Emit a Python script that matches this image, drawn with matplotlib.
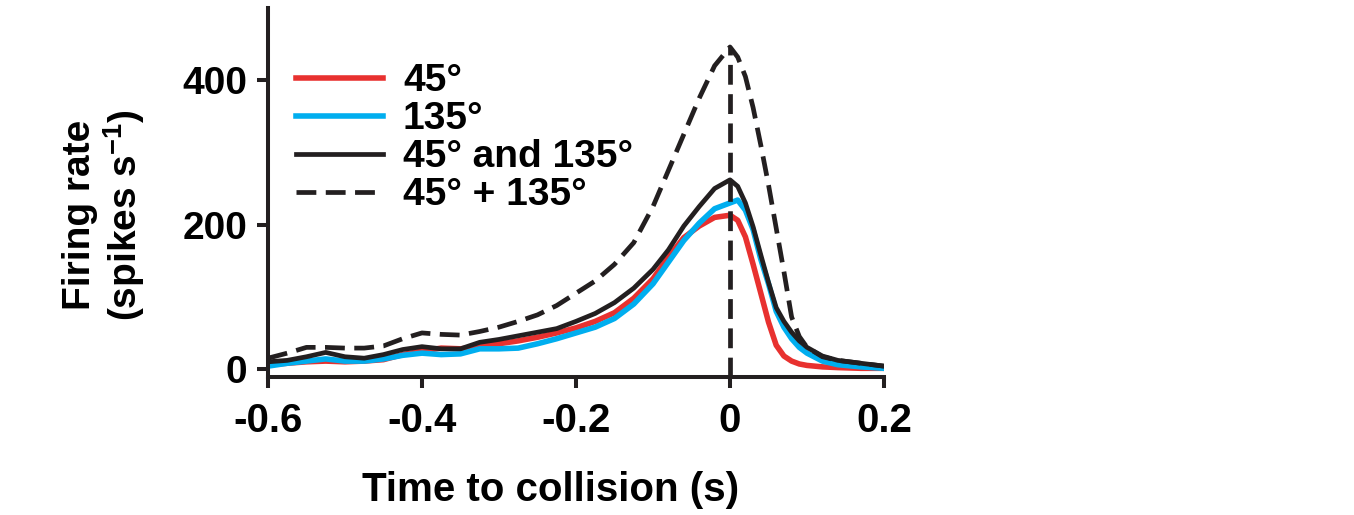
import matplotlib.pyplot as plt

plt.rcParams["font.family"] = ["Liberation Sans", "DejaVu Sans"]
plt.rcParams["font.weight"] = "bold"
plt.rcParams["mathtext.fontset"] = "custom"
plt.rcParams["mathtext.bf"] = "Liberation Sans:bold"
plt.rcParams["mathtext.rm"] = "Liberation Sans:bold"

# time to collision (s)
t = [-0.600, -0.575, -0.550, -0.525, -0.500, -0.475, -0.450, -0.425, -0.400, -0.375,
     -0.350, -0.325, -0.300, -0.275, -0.250, -0.225, -0.200, -0.175, -0.150, -0.125,
     -0.100, -0.080, -0.060, -0.040, -0.020, 0.000, 0.010, 0.020, 0.030, 0.040,
     0.050, 0.060, 0.070, 0.080, 0.090, 0.100, 0.120, 0.140, 0.170, 0.200]

# firing rate (spikes/s)
rate_45 = [6, 8, 10, 11, 10, 11, 13, 20, 25, 29,
           28, 31, 35, 39, 44, 50, 57, 66, 78, 98,
           125, 155, 182, 198, 210, 213, 206, 183, 145, 105,
           65, 33, 18, 11, 7, 5, 3, 2, 1, 1]
rate_135 = [4, 8, 11, 14, 11, 11, 14, 19, 22, 20,
            21, 28, 28, 29, 35, 42, 50, 58, 70, 90,
            118, 148, 178, 202, 222, 230, 234, 220, 193, 152,
            118, 80, 58, 42, 30, 22, 11, 6, 3, 1]
rate_both = [10, 12, 17, 23, 17, 15, 20, 27, 31, 28,
             28, 37, 41, 46, 51, 56, 66, 77, 92, 112,
             138, 165, 198, 225, 250, 262, 253, 230, 197, 158,
             120, 85, 66, 51, 39, 30, 18, 12, 8, 4]
rate_sum = [15, 22, 30, 30, 29, 29, 32, 42, 50, 48,
            47, 52, 58, 66, 75, 88, 105, 122, 145, 175,
            225, 275, 325, 375, 420, 446, 432, 405, 362, 310,
            255, 195, 135, 72, 45, 30, 17, 12, 8, 4]

labels = ["45°", "135°", "45° and 135°", "45° + 135°"]
xticks = [-0.6, -0.4, -0.2, 0, 0.2]
xtick_labels = ["-0.6", "-0.4", "-0.2", "0", "0.2"]
yticks = [0, 200, 400]

fig = plt.figure(figsize=(13.54, 5.15), dpi=100)
ax = fig.add_axes([0.1979, 0.268, 0.455, 0.7165])

dash = (4.2, 2.0)
ax.plot(t, rate_45, color="#e8312f", lw=4.0, label=labels[0])
ax.plot(t, rate_135, color="#00aeef", lw=4.0, label=labels[1])
ax.plot(t, rate_both, color="#231f20", lw=3.4, label=labels[2])
ax.plot(t, rate_sum, color="#231f20", lw=3.4, dashes=dash, label=labels[3])
ax.vlines(0, -11, max(rate_sum), color="#231f20", lw=3.4, linestyles=[(0, dash)])

ax.set_xlim(-0.6, 0.2)
ax.set_ylim(-11, 500)
ax.set_xticks(xticks)
ax.set_xticklabels(xtick_labels)
ax.set_yticks(yticks)

for s in ["top", "right"]:
    ax.spines[s].set_visible(False)
for s in ["left", "bottom"]:
    ax.spines[s].set_linewidth(2.9)
    ax.spines[s].set_color("#231f20")
ax.tick_params(width=2.9, length=8, color="#231f20", labelsize=28)
ax.tick_params(axis="x", pad=10, labelsize=29)
ax.tick_params(axis="y", pad=7)

ax.set_xlabel("Time to collision (s)", fontsize=29, fontweight="bold")
ax.xaxis.set_label_coords(0.458, -0.256)
ax.set_ylabel("Firing rate\n(spikes s$^{-1}$)", fontsize=28, fontweight="bold",
              linespacing=1.1)
ax.yaxis.set_label_coords(-0.196, 0.44)

ax.legend(loc="upper left", bbox_to_anchor=(0.0455, 0.85), frameon=False,
          fontsize=28, handlelength=2.25, handletextpad=0.5, labelspacing=0.05,
          borderpad=0, borderaxespad=0)

plt.savefig("out.png", dpi=100)
